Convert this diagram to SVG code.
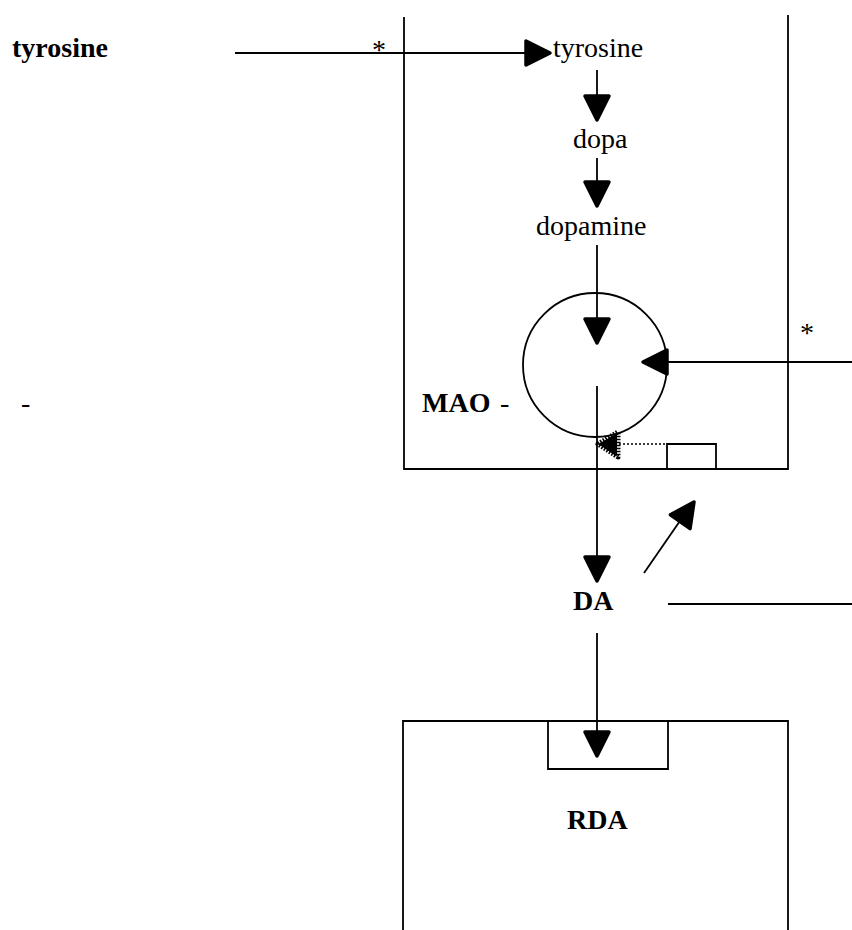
<svg xmlns="http://www.w3.org/2000/svg" xmlns:xlink="http://www.w3.org/1999/xlink" width="852" height="930" viewBox="0 0 852 930">
<style>
.ln{stroke:#000;stroke-width:1.8;fill:none}
.dot{stroke:#000;stroke-width:1.6;fill:none;stroke-dasharray:2 2}
.t{font-family:"Liberation Serif","Times New Roman",serif;font-size:28px;fill:#000}
.b{font-weight:bold}
.ah{fill:#000;stroke:#000;stroke-width:3.5;stroke-linejoin:round}
</style>
<defs>
<path id="arrow" d="M0,0 L-24,-12 L-24,12 Z"/>
</defs>
<rect width="852" height="930" fill="#fff"/>

<g id="neuron-pre">
<polyline class="ln" points="404,17 404,469 788,469 788,15"/>
</g>
<g id="vesicle">
<circle class="ln" cx="595" cy="365" r="72"/>
</g>
<g id="transporter">
<polyline class="ln" points="667,469 667,444 716,444 716,469"/>
</g>
<g id="neuron-post">
<polyline class="ln" points="403,930 403,721 788,721 788,930"/>
</g>
<g id="receptor">
<polyline class="ln" points="548,721 548,769 668,769 668,721"/>
</g>

<g id="connectors">
<line class="ln" x1="235" y1="53" x2="528" y2="53"/>
<use href="#arrow" class="ah" transform="translate(550,53)"/>
<line class="ln" x1="597" y1="70" x2="597" y2="99"/>
<use href="#arrow" class="ah" transform="translate(597,120) rotate(90)"/>
<line class="ln" x1="597" y1="158" x2="597" y2="185"/>
<use href="#arrow" class="ah" transform="translate(597,206) rotate(90)"/>
<line class="ln" x1="597" y1="245" x2="597" y2="322"/>
<use href="#arrow" class="ah" transform="translate(597,343) rotate(90)"/>
<line class="ln" x1="852" y1="362" x2="664" y2="362"/>
<use href="#arrow" class="ah" transform="translate(643,362) rotate(180)"/>
<line class="ln" x1="597" y1="386" x2="597" y2="561"/>
<use href="#arrow" class="ah" transform="translate(597,581) rotate(90)"/>
<line class="ln" x1="644" y1="573" x2="682" y2="518"/>
<use href="#arrow" class="ah" transform="translate(694,502) rotate(-55)"/>
<line class="ln" x1="668" y1="604" x2="852" y2="604"/>
<line class="ln" x1="597" y1="633" x2="597" y2="736"/>
<use href="#arrow" class="ah" transform="translate(597,756) rotate(90)"/>
<line class="dot" x1="619" y1="444" x2="667" y2="444"/>
<path d="M600,444 L616,435 L616,455 Z" fill="#000" stroke="#000" stroke-width="2" stroke-linejoin="round"/>
<path d="M598,444 L618,432 L618,457 Z" fill="none" stroke="#000" stroke-width="5" stroke-dasharray="1.6 1.4" stroke-linejoin="round"/>
</g>

<g id="labels">
<text class="t b" x="12" y="57">tyrosine</text>
<text class="t" x="372" y="59">*</text>
<text class="t" x="553" y="57">tyrosine</text>
<text class="t" x="573" y="148">dopa</text>
<text class="t" x="536" y="235">dopamine</text>
<text class="t" x="800" y="342">*</text>
<text class="t b" x="422" y="412">MAO</text>
<text class="t" x="500" y="412">-</text>
<text class="t" x="21" y="412">-</text>
<text class="t b" x="573" y="610">DA</text>
<text class="t b" x="567" y="829">RDA</text>
</g>
</svg>
